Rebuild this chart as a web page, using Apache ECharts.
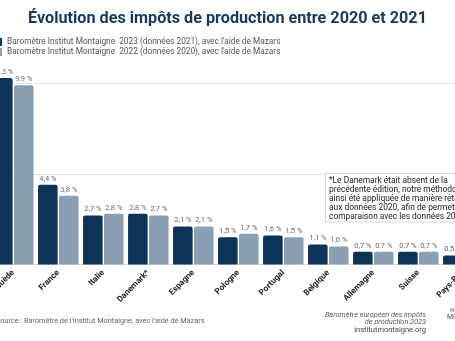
<!DOCTYPE html>
<html>
<head>
<meta charset="utf-8">
<script src="https://cdn.jsdelivr.net/npm/echarts@6/dist/echarts.min.js"></script>
<style>
html,body{margin:0;padding:0;background:#fff;overflow:hidden;width:455px;height:341px;}
#chart{position:absolute;left:-40px;top:0;width:535px;height:341px;}
</style>
</head>
<body>
<div id="chart"></div>
<script>
const categories = ['Suède','France','Italie','Danemark*','Espagne','Pologne','Portugal','Belgique','Allemagne','Suisse','Pays-Bas'];
const series2021 = [10.3, 4.4, 2.7, 2.8, 2.1, 1.5, 1.6, 1.1, 0.7, 0.7, 0.5];
const series2020 = [9.9, 3.8, 2.8, 2.7, 2.1, 1.7, 1.5, 1.0, 0.7, 0.7, 0.5];
const seriesNames = [
  "Baromètre Institut Montaigne  2023 (données 2021), avec l'aide de Mazars",
  "Baromètre Institut Montaigne  2022 (données 2020), avec l'aide de Mazars"
];
const noteLines = [
  "*Le Danemark était absent de la",
  "précédente édition, notre méthodologie a",
  "ainsi été appliquée de manière rétroactive",
  "aux données 2020, afin de permettre la",
  "comparaison avec les données 2021."
];

const FONT = 'Roboto';
const DARK = '#0d3359';
const LIGHT = '#8a9fb2';
const OX = 40; // container offset (chart is cropped on both sides)

function fmt(v){ return v.toFixed(1).replace('.', ',') + ' %'; }

const chart = echarts.init(document.getElementById('chart'));
const labelCfg = {
  show: true, position: 'top', distance: 2,
  fontFamily: FONT, fontSize: 7.5, color: '#6b6b6b',
  formatter: p => fmt(p.value)
};
chart.setOption({
  animation: false,
  backgroundColor: '#ffffff',
  textStyle: { fontFamily: FONT },
  title: {
    text: 'Évolution des impôts de production entre 2020 et 2021',
    left: 'center', top: 6,
    textStyle: { fontFamily: FONT, fontSize: 16.2, fontWeight: 'bold', color: '#173a5c' }
  },
  legend: {
    orient: 'vertical', left: OX - 6, top: 33, itemGap: 2,
    itemWidth: 3, itemHeight: 8, icon: 'rect',
    textStyle: { fontFamily: FONT, fontSize: 8.3, color: '#555' },
    data: seriesNames
  },
  grid: { left: OX - 9.2, right: 535 - (OX + 485.8), top: 65.2, bottom: 76.5, containLabel: false },
  xAxis: {
    type: 'category', data: categories,
    axisLine: { show: true, lineStyle: { color: '#dcdcdc' } },
    axisTick: { show: false },
    axisLabel: { rotate: 45, interval: 0, margin: 7, fontFamily: FONT, fontSize: 8.3, fontWeight: 'bold', color: '#1e1e1e' }
  },
  yAxis: {
    type: 'value', min: 0, max: 11, interval: 5,
    axisLabel: { show: false }, axisLine: { show: false }, axisTick: { show: false },
    splitLine: { show: true, showMinLine: false, showMaxLine: false, lineStyle: { color: '#e3e3e3', width: 1 } }
  },
  series: [
    { name: seriesNames[0], type: 'bar', data: series2021, barCategoryGap: '10%', barGap: '7%',
      itemStyle: { color: DARK, borderRadius: [2,2,0,0] }, label: labelCfg },
    { name: seriesNames[1], type: 'bar', data: series2020,
      itemStyle: { color: LIGHT, borderRadius: [2,2,0,0] }, label: labelCfg }
  ],
  graphic: [
    { type: 'rect', shape: { x: OX + 325.5, y: 173.5, width: 140, height: 48.5 },
      style: { fill: '#fff', stroke: '#d8d8d8', lineWidth: 1 }, z: 10 },
    { type: 'text', x: OX + 329, y: 176, z: 11,
      style: { text: noteLines.join('\n'), font: '8.4px ' + FONT, fill: '#222', lineHeight: 9 } },
    { type: 'text', x: OX - 4, y: 318, z: 11,
      style: { text: "Source : Baromètre de l'Institut Montaigne, avec l'aide de Mazars", font: '7.3px ' + FONT, fill: '#666' } },
    { type: 'text', x: OX + 426, y: 311, z: 11,
      style: { text: 'Baromètre européen des impôts\nde production 2023', font: 'italic 7.3px ' + FONT, fill: '#555', align: 'right', lineHeight: 7.5 } },
    { type: 'text', x: OX + 426, y: 326, z: 11,
      style: { text: 'institutmontaigne.org', font: '7.5px ' + FONT, fill: '#444', align: 'right' } },
    { type: 'text', x: OX + 450, y: 308, z: 11,
      style: { text: 'INSTITUT', font: '4.5px ' + FONT, fill: '#666' } },
    { type: 'text', x: OX + 447, y: 314, z: 11,
      style: { text: 'MONTAIGNE', font: '7px ' + FONT, fill: '#555' } }
  ]
});
</script>
</body>
</html>
